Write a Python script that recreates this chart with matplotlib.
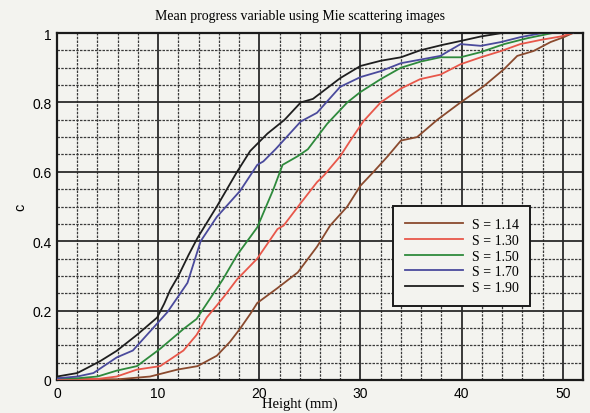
import numpy as np
import matplotlib.pyplot as plt
from matplotlib.ticker import MultipleLocator

# mean progress variable c against height, one curve per swirl number S
h_114 = [0, 6, 9.2, 11.9, 13.9, 15.8, 17.1, 18.1, 19.1, 19.8, 21.8, 23.8, 25.7, 27.0, 28.7,
         30.0, 31.3, 32.7, 34.0, 35.6, 37.6, 39.9, 42.2, 44.2, 45.5, 47.1, 48.8, 50.1, 51.0]
c_114 = [0.002, 0.002, 0.01, 0.03, 0.04, 0.07, 0.11, 0.148, 0.19, 0.222, 0.265, 0.31, 0.384, 0.445, 0.50,
         0.56, 0.60, 0.645, 0.69, 0.70, 0.75, 0.80, 0.847, 0.896, 0.934, 0.948, 0.974, 0.988, 1.0]

h_130 = [0, 4, 5.9, 7.9, 10.2, 12.5, 13.8, 14.8, 15.8, 16.5, 17.8, 19.8, 21.8, 22.4, 24.1, 25.7,
         26.4, 28.0, 29.0, 30.3, 32.0, 34.0, 35.9, 37.9, 39.9, 41.9, 43.9, 45.8, 47.8, 49.8, 51.0]
c_130 = [0.003, 0.003, 0.01, 0.03, 0.04, 0.085, 0.13, 0.18, 0.215, 0.24, 0.29, 0.35, 0.435, 0.445, 0.51, 0.57,
         0.59, 0.645, 0.69, 0.746, 0.80, 0.84, 0.867, 0.88, 0.91, 0.93, 0.948, 0.968, 0.98, 0.99, 1.0]

h_150 = [0, 2, 4, 5.9, 7.9, 10.2, 12.5, 13.8, 15.1, 16.4, 17.8, 19.8, 21.4, 22.3, 23.8, 24.8,
         26.7, 28.7, 30.0, 32.0, 34.0, 36.0, 37.9, 39.9, 41.9, 44.2, 46.5, 49.0, 51.0]
c_150 = [0.005, 0.005, 0.01, 0.027, 0.04, 0.09, 0.147, 0.176, 0.233, 0.29, 0.36, 0.44, 0.55, 0.62, 0.645, 0.665,
         0.738, 0.80, 0.83, 0.867, 0.90, 0.918, 0.93, 0.93, 0.945, 0.968, 0.985, 1.0, 1.0]

h_170 = [0, 2, 3.6, 5.9, 7.5, 9.2, 10.9, 12.2, 12.9, 14.2, 15.8, 18.1, 19.8, 20.4, 21.6, 24.1,
         25.7, 28.0, 30.0, 32.0, 34.0, 37.9, 39.9, 41.9, 43.9, 45.8, 48.0, 51.0]
c_170 = [0.005, 0.01, 0.02, 0.065, 0.085, 0.14, 0.195, 0.25, 0.28, 0.40, 0.47, 0.545, 0.62, 0.63, 0.665, 0.745,
         0.77, 0.845, 0.873, 0.89, 0.913, 0.934, 0.968, 0.963, 0.974, 0.988, 1.0, 1.0]

h_190 = [0, 2, 3, 4.3, 5.9, 7.9, 9.9, 10.6, 11.2, 12.0, 13.0, 13.9, 15.8, 17.8, 19.1, 20.8,
         22.5, 24.1, 25.3, 28.0, 30.0, 32.0, 34.0, 35.9, 38.0, 39.9, 41.9, 44.0, 51.0]
c_190 = [0.01, 0.02, 0.035, 0.055, 0.084, 0.13, 0.18, 0.22, 0.26, 0.30, 0.36, 0.41, 0.50, 0.60, 0.66, 0.71,
         0.75, 0.80, 0.81, 0.87, 0.905, 0.92, 0.93, 0.95, 0.965, 0.977, 0.99, 1.0, 1.0]

series = [(h_114, c_114, 'S = 1.14', '#8a4a2e'),
          (h_130, c_130, 'S = 1.30', '#e8574a'),
          (h_150, c_150, 'S = 1.50', '#2e8a3c'),
          (h_170, c_170, 'S = 1.70', '#4a4a9c'),
          (h_190, c_190, 'S = 1.90', '#1e1e1e')]

paper = '#f3f3ef'
fig = plt.figure(figsize=(5.9, 4.14), dpi=100, facecolor=paper)
ax = fig.add_axes([57 / 590, 1 - 381 / 414, 526 / 590, 347 / 414])
ax.set_facecolor(paper)

for h, c, lab, col in series:
    ax.plot(h, c, color=col, lw=1.3, label=lab, zorder=3)

ax.set_xlim(0, 52)
ax.set_ylim(0, 1)
ax.xaxis.set_major_locator(MultipleLocator(10))
ax.xaxis.set_minor_locator(MultipleLocator(2))
ax.yaxis.set_major_locator(MultipleLocator(0.2))
ax.yaxis.set_minor_locator(MultipleLocator(0.05))
ax.set_yticks([0, 0.2, 0.4, 0.6, 0.8, 1])
ax.set_yticklabels(['0', '0.2', '0.4', '0.6', '0.8', '1'])

ax.grid(which='major', color='#2a2a2a', lw=1.3, ls='-')
ax.grid(which='minor', color='#3a3a3a', lw=0.9, ls=(0, (2, 1)))
ax.set_axisbelow(True)
ax.tick_params(which='both', length=0, labelsize=10, pad=4)
for t in ax.get_xticklabels() + ax.get_yticklabels():
    t.set_fontfamily('Liberation Sans')
for s in ax.spines.values():
    s.set_linewidth(1.6)
    s.set_color('#1a1a1a')

leg = ax.legend(loc='upper left', bbox_to_anchor=(0.639, 0.501), frameon=True,
                fancybox=False, edgecolor='#1a1a1a', facecolor=paper, framealpha=1,
                prop={'family': 'Liberation Serif', 'size': 10}, handlelength=4.2,
                labelspacing=0.2, borderpad=0.85, handletextpad=0.6, borderaxespad=0)
leg.get_frame().set_linewidth(1.4)

fig.text(0.508, 0.961, 'Mean progress variable using Mie scattering images',
         ha='center', va='center', fontsize=10, family='Liberation Serif')
fig.text(0.508, 0.024, 'Height (mm)', ha='center', va='center',
         fontsize=10.5, family='Liberation Serif')
fig.text(0.034, 0.5, 'c', ha='center', va='center', rotation=90,
         fontsize=10.5, family='Liberation Sans')

fig.savefig('out.png', dpi=100, facecolor=paper)
